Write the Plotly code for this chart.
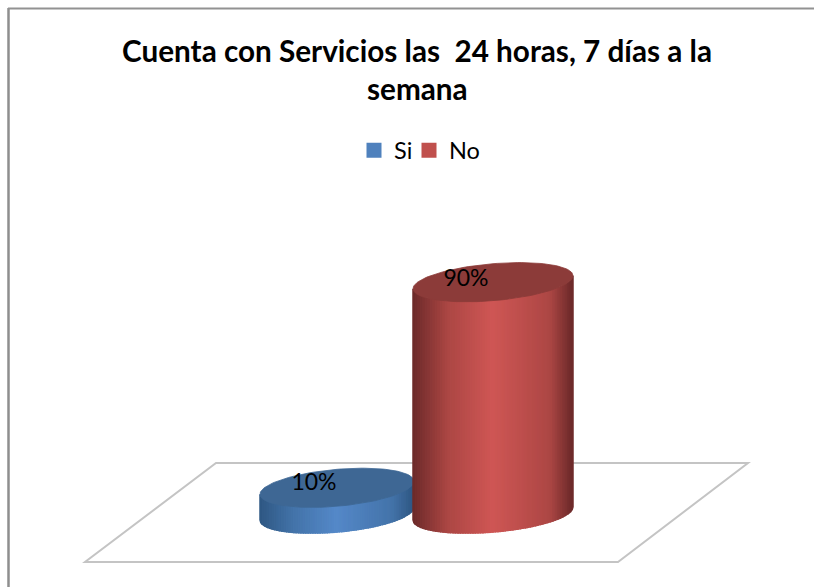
import numpy as np
import plotly.graph_objects as go

categories = ["Si", "No"]
values = [10, 90]
labels = ["10%", "90%"]
title_lines = ["Cuenta con Servicios las\u00a0 24 horas, 7 días a la", "semana"]

W, H = 814, 587
PX_PER_UNIT = 2.57
BASE_PX = 513.5
CAT0_PX, CAT_STEP = 337, 156
A_PX = [77, 80]
B_PX, SHEAR_PX = 18.5, 6.5
LABEL_DX_PX = [-23, -27]
LABEL_DY_PX = [-4, -2]
LEGEND_LEFT_PX = [354, 409]

palette = {
    "Si": dict(edge="#2f5783", mid="#4474aa", peak="#5589c9", top="#3e6794", legend="#4f81bd"),
    "No": dict(edge="#6c2a2a", mid="#ad4745", peak="#cf5755", top="#8c3b39", legend="#c0504d"),
}

def rgb(h):
    return np.array([int(h[i:i + 2], 16) for i in (1, 3, 5)], float)

def shade(c, u):
    """u in -1..1 across the cylinder."""
    d = abs(u)
    knee = 0.55 if u < 0 else 0.72
    if d > knee:
        k = (d - knee) / (1 - knee)
        col = rgb(c["mid"]) * (1 - k) + rgb(c["edge"]) * k
    else:
        k = d / knee
        col = rgb(c["peak"]) * (1 - k) + rgb(c["mid"]) * k
    return "rgb(%d,%d,%d)" % tuple(col)

xr = [(0 - CAT0_PX) / CAT_STEP, (W - CAT0_PX) / CAT_STEP]
yr = [(BASE_PX - H) / PX_PER_UNIT, BASE_PX / PX_PER_UNIT]
fig = go.Figure()

for i, (cat, val, lab) in enumerate(zip(categories, values, labels)):
    c = palette[cat]
    a = A_PX[i] / CAT_STEP
    b = B_PX / PX_PER_UNIT
    s = SHEAR_PX / PX_PER_UNIT
    n = 64
    edges = np.linspace(-1, 1, n + 1)
    for u0, u1 in zip(edges[:-1], edges[1:]):
        us = np.linspace(u0, u1, 4)
        # front arc of a sheared ellipse
        front = -b * np.sqrt(np.clip(1 - us ** 2, 0, 1)) + s * us
        xs = i + a * us
        px = np.concatenate([xs, xs[::-1], xs[:1]])
        py = np.concatenate([front + val, front[::-1], front[:1] + val])
        col = shade(c, (u0 + u1) / 2)
        fig.add_trace(go.Scatter(x=px, y=py, mode="lines", fill="toself", fillcolor=col,
                                 line=dict(color=col, width=1.5), hoverinfo="skip", showlegend=False))
    # top cap
    t = np.linspace(0, 2 * np.pi, 121)
    fig.add_trace(go.Scatter(x=i + a * np.cos(t), y=val + b * np.sin(t) + s * np.cos(t),
                             mode="lines", fill="toself", fillcolor=c["top"],
                             line=dict(color=c["top"], width=0.8), hoverinfo="skip", showlegend=False))

# Data labels
for i, (val, lab) in enumerate(zip(values, labels)):
    fig.add_trace(go.Scatter(x=[i + LABEL_DX_PX[i] / CAT_STEP], y=[val - LABEL_DY_PX[i] / PX_PER_UNIT],
                             mode="text", text=[lab], textposition="middle center",
                             textfont=dict(family="Lato", size=23, color="#000000"),
                             hoverinfo="skip", showlegend=False))

# Legend entries: one legend per entry so the spacing can be tightened
legend_names = ["legend", "legend2"]
for cat, lg in zip(categories, legend_names):
    fig.add_trace(go.Scatter(x=[None], y=[None], mode="markers", name=cat, legend=lg,
                             marker=dict(symbol="square", size=15, color=palette[cat]["legend"])))

def P(x, y):
    return x / W, 1 - y / H

floor = [(85, 562), (618, 562), (748, 463), (216, 463)]
path = "M " + " L ".join("%.5f,%.5f" % P(*p) for p in floor) + " Z"
shapes = [
    dict(type="path", xref="paper", yref="paper", path=path, layer="below",
         line=dict(color="#c4c4c4", width=2), fillcolor="#ffffff"),
    dict(type="line", xref="paper", yref="paper", x0=P(8.5, 0)[0], x1=P(8.5, 0)[0],
         y0=P(0, 8)[1], y1=0, line=dict(color="#8e8e8e", width=2.5), layer="above"),
    dict(type="line", xref="paper", yref="paper", x0=P(8, 0)[0], x1=1,
         y0=P(0, 8.5)[1], y1=P(0, 8.5)[1], line=dict(color="#929292", width=2), layer="above"),
]

def legend_at(left_px):
    return dict(orientation="h", x=left_px / W, xanchor="left", y=1 - 150.5 / H, yanchor="middle",
                font=dict(family="Lato", size=23.5, color="#000000"), bgcolor="rgba(0,0,0,0)",
                itemwidth=30)

fig.update_layout(
    width=W, height=H, autosize=False,
    margin=dict(l=0, r=0, t=0, b=0),
    paper_bgcolor="#ffffff", plot_bgcolor="rgba(0,0,0,0)",
    xaxis=dict(range=xr, visible=False, fixedrange=True),
    yaxis=dict(range=yr, visible=False, fixedrange=True),
    shapes=shapes,
    showlegend=True,
    legend=legend_at(LEGEND_LEFT_PX[0]),
    legend2=legend_at(LEGEND_LEFT_PX[1]),
    title=dict(text=title_lines[0], x=417 / W, xanchor="center", y=1 - 52 / H, yanchor="middle",
               font=dict(family="Lato", size=29.7, color="#000000", weight="bold")),
    annotations=[dict(text=title_lines[1], xref="paper", yref="paper", x=417 / W, y=1 - 88 / H,
                      xanchor="center", yanchor="middle", showarrow=False,
                      font=dict(family="Lato", size=29.7, color="#000000", weight="bold"))],
)
fig.write_html("out.html", config=dict(displayModeBar=False),
               post_script="document.body.style.margin='0';document.documentElement.style.overflow='hidden';")
